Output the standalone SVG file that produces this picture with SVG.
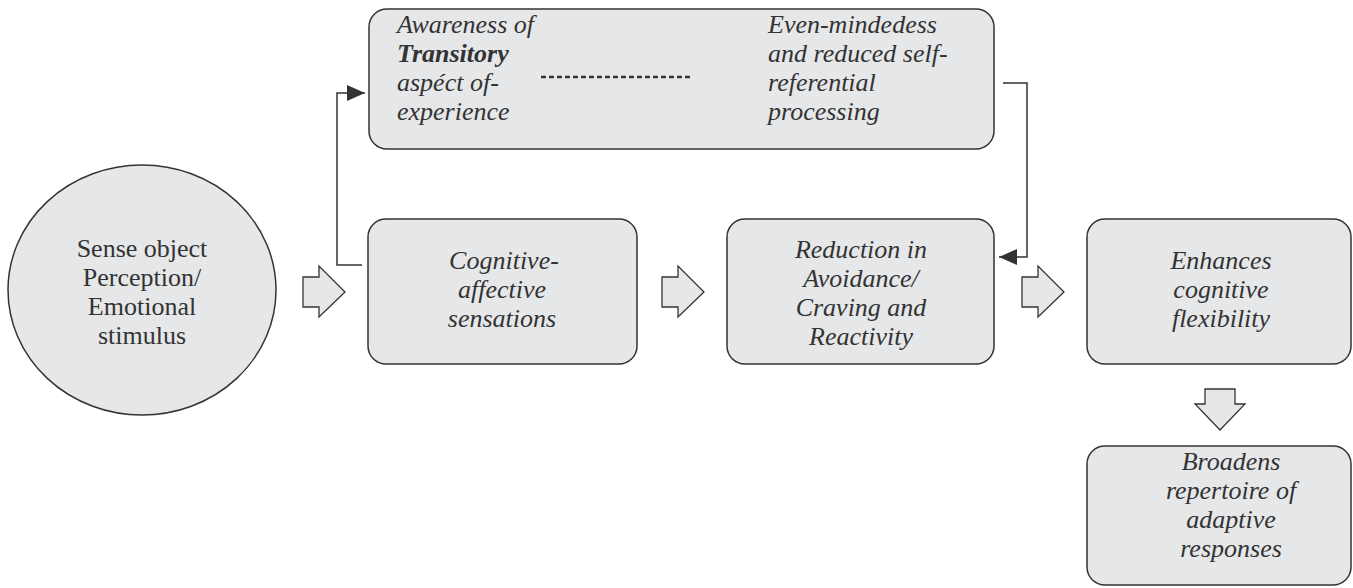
<svg xmlns="http://www.w3.org/2000/svg" width="1353" height="588" viewBox="0 0 1353 588">
<style>
.box{fill:#e6e7e9;stroke:#333;stroke-width:1.5}
.t{font-family:'Liberation Serif','Times New Roman',Times,Tinos,'Noto Serif','DejaVu Serif',FreeSerif,'Nimbus Roman','Nimbus Roman No9 L',serif;font-size:26px;fill:#333}
.i{font-style:italic}
.c{text-anchor:middle}
.ln{fill:none;stroke:#333;stroke-width:1.5}
.ha{fill:#e6e7e9;stroke:#333;stroke-width:1.3}
</style>
<defs>
<marker id="ah" markerWidth="18" markerHeight="16" refX="18" refY="8" orient="auto" markerUnits="userSpaceOnUse">
<path d="M0,0 L18,8 L0,16 Z" fill="#333"/>
</marker>
</defs>
<rect width="1353" height="588" fill="#fff"/>
<g id="n-stimulus">
<ellipse class="box" cx="142" cy="290" rx="134" ry="125"/>
<text class="t c"><tspan x="142" y="257">Sense object</tspan><tspan x="142" y="286">Perception/</tspan><tspan x="142" y="315">Emotional</tspan><tspan x="142" y="344">stimulus</tspan></text>
</g>
<g id="n-top">
<rect class="box" x="369" y="9" width="625" height="140" rx="18"/>
<text class="t i"><tspan x="397" y="33">Awareness of</tspan><tspan x="397" y="62" font-weight="bold">Transitory</tspan><tspan x="397" y="91">aspéct of-</tspan><tspan x="397" y="120">experience</tspan></text>
<line x1="541" y1="77" x2="690" y2="77" stroke="#333" stroke-width="2.5" stroke-dasharray="5,3"/>
<text class="t i"><tspan x="768" y="33">Even-mindedess</tspan><tspan x="768" y="62">and reduced self-</tspan><tspan x="768" y="91">referential</tspan><tspan x="768" y="120">processing</tspan></text>
</g>
<g id="n-cognitive">
<rect class="box" x="368" y="219" width="269" height="145" rx="18"/>
<text class="t i c"><tspan x="504" y="269">Cognitive-</tspan><tspan x="502" y="298">affective</tspan><tspan x="502" y="327">sensations</tspan></text>
</g>
<g id="n-reduction">
<rect class="box" x="727" y="219" width="267" height="145" rx="18"/>
<text class="t i c"><tspan x="861" y="258">Reduction in</tspan><tspan x="861" y="287">Avoidance/</tspan><tspan x="861" y="316">Craving and</tspan><tspan x="861" y="345">Reactivity</tspan></text>
</g>
<g id="n-enhances">
<rect class="box" x="1087" y="219" width="264" height="145" rx="18"/>
<text class="t i c"><tspan x="1221" y="269">Enhances</tspan><tspan x="1221" y="298">cognitive</tspan><tspan x="1221" y="327">flexibility</tspan></text>
</g>
<g id="n-broadens">
<rect class="box" x="1087" y="446" width="264" height="139" rx="18"/>
<text class="t i c"><tspan x="1231" y="470">Broadens</tspan><tspan x="1231" y="499">repertoire of</tspan><tspan x="1231" y="528">adaptive</tspan><tspan x="1231" y="557">responses</tspan></text>
</g>
<g id="connectors">
<polygon class="ha" points="303,277 319,277 319,266 345,292 319,317 319,307 303,307"/>
<polygon class="ha" points="662,277 678,277 678,266 704,292 678,317 678,307 662,307"/>
<polygon class="ha" points="1022,277 1038,277 1038,266 1064,292 1038,317 1038,307 1022,307"/>
<polygon class="ha" points="1205,389 1235,389 1235,404 1245,404 1220,430 1195,404 1205,404"/>
<polyline class="ln" points="362,265 337,265 337,93 365,93" marker-end="url(#ah)"/>
<polyline class="ln" points="1003,83 1027,83 1027,257 999,257" marker-end="url(#ah)"/>
</g>
</svg>
